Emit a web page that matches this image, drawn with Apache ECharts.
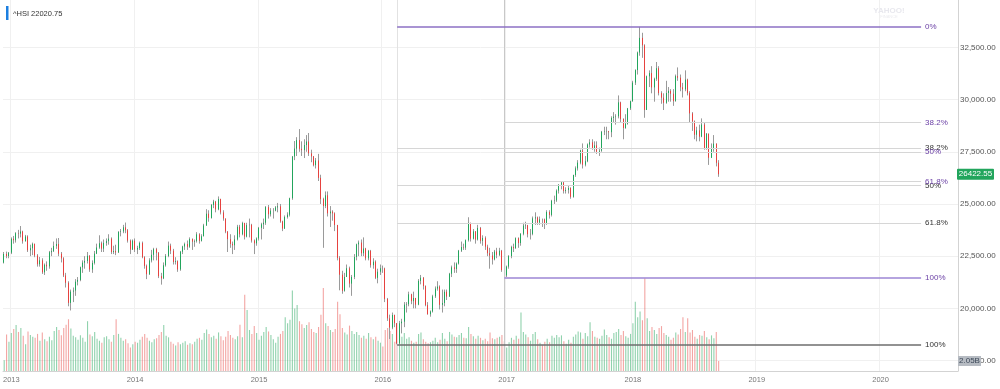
<!DOCTYPE html>
<html><head><meta charset="utf-8">
<script src="https://cdn.jsdelivr.net/npm/echarts@6/dist/echarts.min.js"></script>
<style>html,body{margin:0;padding:0;background:#fff}#c{width:1000px;height:389px}</style>
</head><body><div id="c"></div>
<script>
// ---------- DATA ----------
const startMonday = [2012, 11, 10]; // 2012-12-10, weekly categories
const weekCount = 401;              // axis runs to mid 2020
// weekly candles [open, close, low, high]
const ohlc2012 = [
[22190,22605,22150,22700],[22605,22506,22400,22720],[22506,22666,22400,22700],[22666,23331,22600,23400]];
const ohlc2013 = [
[23331,23264,23100,23470],[23264,23601,23150,23650],[23601,23580,23350,23760],[23580,23682,23400,23944],
[23682,23215,23100,23720],[23215,23444,23200,23520],[23444,22782,22700,23500],[22782,22880,22500,23050],
[22880,23091,22550,23150],[23091,22533,22450,23100],[22533,22115,22000,22600],[22115,22300,22000,22460],
[22300,21727,21650,22400],[21727,22089,21600,22150],[22089,22013,21800,22250],[22013,22690,21900,22750],
[22690,22740,22500,22900],[22740,22989,22700,23200],[22989,23082,22850,23350],[23082,22618,22500,23370],
[22618,22392,22200,22700],[22392,21575,21500,22450],[21575,21225,21000,21700],[21225,20263,20100,21300],
[20263,20803,19900,20900],[20803,20854,20300,21000],[20854,21277,20600,21400],[21277,21362,21100,21500],
[21362,21968,21300,22000],[21968,22190,21700,22300],[22190,22271,21900,22500],[22271,22517,22150,22700],
[22517,21863,21750,22550],[21863,22176,21700,22300],[22176,22621,22100,22750],[22621,22915,22600,23100],
[22915,23117,22850,23500],[23117,22860,22700,23200],[22860,23138,22700,23300],[23138,23218,23000,23350],
[23218,23340,23050,23550],[23340,22698,22600,23400],[22698,22744,22600,23000],[22744,22681,22550,23050],
[22681,23660,22650,23700],[23660,23686,23450,23800],[23686,23882,23600,24000],[23882,23743,23600,24111],
[23743,23245,23150,23800],[23245,22813,22600,23300],[22813,23244,22800,23300],[23244,22817,22700,23350]];
const ohlc2014 = [
[22817,22888,22600,23000],[22888,23133,22800,23200],[23133,22450,22400,23200],[22450,22035,21900,22500],
[22035,21636,21400,22100],[21636,22298,21600,22400],[22298,22568,22200,22800],[22568,22836,22300,22900],
[22836,22660,22300,22900],[22660,21540,21450,22700],[21540,21436,21137,21700],[21436,22065,21400,22200],
[22065,22510,22000,22600],[22510,23003,22450,23200],[23003,22760,22600,23100],[22760,22223,22100,22850],
[22223,22260,22100,22450],[22260,21863,21750,22300],[21863,22714,21800,22750],[22714,22965,22600,23000],
[22965,23081,22800,23150],[23081,22951,22800,23250],[22951,23319,22900,23400],[23319,23194,22800,23350],
[23194,23221,22950,23300],[23221,23546,23150,23650],[23546,23233,23100,23600],[23233,23454,23200,23550],
[23454,23971,23450,24050],[23971,24532,23950,24750],[24532,24331,24150,24700],[24331,24954,24300,25000],
[24954,25112,24800,25200],[25112,24742,24600,25150],[24742,25240,24700,25362],[25240,24595,24500,25250],
[24595,24306,24200,24700],[24306,23678,23600,24300],[23678,23315,22700,23700],[23315,23088,22900,23550],
[23088,23023,22600,23200],[23023,23302,22800,23500],[23302,23907,23250,24000],[23907,23550,23400,24000],
[23550,24087,23500,24150],[24087,23437,23300,24100],[23437,23987,23400,24100],[23987,24002,23400,24300],
[24002,23249,23150,24050],[23249,23116,22600,23300],[23116,23349,23000,23400],[23349,23857,23250,23900]];
const ohlc2015 = [
[23857,24026,23300,24100],[24026,24103,23800,24300],[24103,24850,24000,24900],[24850,24507,24300,24950],
[24507,24679,24400,24800],[24679,24682,24300,24800],[24682,24837,24650,24900],[24837,24887,24600,25050],
[24887,24164,24100,25000],[24164,23823,23700,24200],[23823,24375,23800,24450],[24375,24486,24300,24600],
[24486,25275,24400,25300],[25275,27273,25200,27300],[27273,27653,27100,28016],[27653,28061,27300,28200],
[28061,27641,27500,28588],[27641,27578,27300,28000],[27578,27823,27200,28100],[27823,27992,27500,28300],
[27992,27424,27300,28400],[27424,27280,27000,27600],[27280,26860,26800,27300],[26860,27080,26700,27200],
[27080,26250,26100,27400],[26250,25236,25000,26400],[25236,24901,22900,25300],[24901,25415,24800,25600],
[25415,24552,24400,25600],[24552,24636,23900,24900],[24636,24552,24200,24700],[24552,23991,23700,24600],
[23991,22410,22300,24000],[22410,21612,20865,22500],[21612,20840,20700,21800],[20840,21504,20800,21700],
[21504,21920,21500,22100],[21920,21186,21000,22000],[21186,21506,20600,21600],[21506,22459,21400,22600],
[22459,23067,22300,23100],[23067,23151,22500,23250],[23151,22640,22500,23300],[22640,22867,22500,23400],
[22867,22397,22300,22900],[22397,22754,22300,22800],[22754,22068,21950,22800],[22068,22235,21900,22400],
[22235,21464,21400,22300],[21464,21755,21200,21900],[21755,21920,21600,22100],[21920,21914,21700,22050]];
const ohlc2016 = [
[21914,20453,20300,21950],[20453,19521,19400,20500],[19521,19080,18534,19700],[19080,19683,19000,19800],
[19683,19288,19100,19700],[19288,18320,18278,19300],[18320,19286,18300,19400],[19286,19364,18800,19500],
[19364,20177,19100,20300],[20177,20200,19800,20300],[20200,20672,20100,20800],[20672,20346,20200,20700],
[20346,20498,20000,20800],[20498,20178,20000,20500],[20178,21316,20150,21400],[21316,21467,21150,21600],
[21467,21067,20900,21500],[21067,20157,20100,21100],[20157,19719,19700,20300],[19719,19852,19600,19900],
[19852,20576,19800,20650],[20576,20947,20500,21050],[20947,21042,20850,21300],[21042,20170,19950,21100],
[20170,20259,19800,20900],[20259,20795,20100,20900],[20795,20564,20400,20900],[20564,21659,20550,21700],
[21659,21964,21500,22050],[21964,21891,21700,22200],[21891,22146,21700,22200],[22146,22766,22100,22800],
[22766,22937,22700,23200],[22937,22909,22800,23100],[22909,23266,22800,23300],[23266,24099,23200,24364],
[24099,23336,23200,24100],[23336,23686,23300,23800],[23686,23297,23100,23700],[23297,23851,23250,24000],
[23851,23233,23100,23900],[23233,23374,23000,23500],[23374,22955,22800,23450],[22955,22642,22500,23050],
[22642,22531,21900,22900],[22531,22344,22100,22700],[22344,22723,22300,22800],[22723,22565,22400,22900],
[22565,22761,22500,22900],[22761,21833,21750,22800],[21833,21575,21488,21900],[21575,22001,21500,22050]];
const ohlc2017 = [
[22001,22503,21900,22550],[22503,22937,22400,23000],[22937,22885,22700,23100],[22885,23361,22850,23400],
[23361,23129,22900,23400],[23129,23574,23000,23600],[23574,23965,23500,24100],[23965,23985,23800,24150],
[23985,23552,23400,24000],[23552,23568,23300,23800],[23568,24309,23500,24400],[24309,24358,24000,24600],
[24358,24111,24000,24400],[24111,24262,24000,24400],[24262,24261,23900,24300],[24261,24042,23800,24300],
[24042,24615,24000,24700],[24615,24476,24300,24700],[24476,25156,24400,25200],[25156,25174,25000,25400],
[25174,25639,25100,25700],[25639,25924,25500,25950],[25924,26030,25700,26100],[26030,25626,25500,26100],
[25626,25670,25500,25800],[25670,25765,25500,25900],[25765,25341,25250,25800],[25341,26389,25300,26400],
[26389,26706,26300,26800],[26706,26979,26600,27100],[26979,27563,26900,27600],[27563,26883,26700,27900],
[26883,27047,26800,27300],[27047,27848,27000,27900],[27848,27953,27700,28100],[27953,27668,27600,28100],
[27668,27807,27500,28000],[27807,27500,27400,28000],[27500,27554,27300,27700],[27554,28458,27500,28500],
[28458,28476,28300,28700],[28476,28487,28100,28700],[28487,28438,28100,28500],[28438,29121,28200,29200],
[29121,29182,28900,29400],[29182,29199,28800,29300],[29199,29866,29100,30200],[29866,29074,28900,29900],
[29074,28640,28100,29100],[28640,28849,28600,29300],[28849,29578,28800,29600],[29578,29919,29500,29950]];
const ohlc2018 = [
[29919,30814,29900,30900],[30814,31412,30700,31450],[31412,32254,31200,32300],[32254,32955,32100,33484],
[32955,32601,32000,33200],[32601,29507,29129,32650],[29507,31115,29500,31150],[31115,31268,30600,31400],
[31268,30583,30300,31600],[30583,30996,29900,31050],[30996,31502,30900,31800],[31502,30309,30200,31600],
[30309,30093,29800,30400],[30093,29845,29500,30300],[29845,30315,29800,30900],[30315,30418,29900,30600],
[30418,30281,29900,30500],[30281,29926,29700,30500],[29926,31122,29900,31200],[31122,31048,30900,31541],
[31048,30588,30400,31200],[30588,30493,30100,30800],[30493,30958,30400,31400],[30958,30309,30200,31000],
[30309,29339,28900,30400],[29339,28955,28500,29400],[28955,28316,28100,29000],[28316,28525,28000,28700],
[28525,28224,28000,28800],[28224,28804,28200,29100],[28804,27676,27600,28900],[27676,28366,27600,28400],
[28366,27213,26871,28370],[27213,27672,27200,27900],[27672,27889,27500,28300],[27889,26973,26800,27900],
[26973,26422.55,26300,27100]];
// weekly volume, billions of shares
const vol2012 = [2.2,7.5,6.0,7.8];
const vol2013 = [8.6,9.4,8.0,8.8,7.2,5.5,8.1,7.4,7.0,6.8,7.6,6.2,7.9,6.5,6.1,7.0,6.3,8.2,9.0,8.4,7.3,8.8,9.5,10.6,8.7,7.2,6.9,6.4,7.3,6.8,6.0,10.2,7.5,7.1,8.0,6.6,6.2,5.8,6.9,7.1,6.5,6.0,7.4,10.6,7.6,6.8,6.2,6.5,5.7,4.8,5.5,6.0];
const vol2014 = [5.8,6.4,7.0,7.6,6.8,6.2,5.9,6.5,6.7,7.4,8.0,9.4,7.2,6.9,6.0,5.6,5.2,5.9,5.5,5.8,6.1,5.4,5.7,5.5,6.0,6.6,6.8,6.4,7.8,8.5,7.6,6.9,7.2,6.6,7.9,7.1,6.3,7.0,8.2,7.4,6.8,6.5,7.1,9.5,6.9,15.6,12.5,8.4,7.6,9.2,7.8,6.4];
const vol2015 = [7.2,8.0,9.0,8.1,7.4,6.5,5.8,7.0,7.6,8.2,11.0,9.8,10.5,16.5,12.8,13.5,10.2,9.6,8.8,9.4,10.0,8.6,8.0,7.8,9.0,11.5,17.0,9.8,9.2,8.4,8.0,8.6,14.2,11.6,8.8,7.9,7.5,9.3,8.2,7.6,8.0,7.4,6.8,7.2,6.6,7.8,6.9,6.5,7.0,6.2,5.8,5.0];
const vol2016 = [8.4,8.8,8.2,7.6,6.0,8.1,7.3,7.0,7.8,6.6,6.9,6.2,5.8,6.0,7.6,7.9,6.5,6.0,5.7,5.9,6.2,6.8,5.9,6.4,7.8,6.6,6.1,8.0,7.5,7.0,6.9,7.4,7.8,6.8,6.7,9.0,7.6,7.1,6.6,7.2,6.8,6.3,6.6,6.1,7.9,6.7,6.5,6.8,7.0,7.4,6.1,4.8];
const vol2017 = [5.9,6.8,6.4,7.2,6.6,12.0,8.0,7.5,6.9,6.2,7.6,8.0,6.5,5.8,5.4,6.0,6.6,5.9,7.2,6.8,7.4,6.9,7.3,6.1,5.6,6.4,5.8,7.0,7.5,8.1,7.9,6.6,7.8,7.1,10.0,8.2,7.0,6.8,6.6,7.2,8.5,7.4,6.9,6.6,7.8,8.0,8.6,7.4,8.2,7.1,6.8,7.6];
const vol2018 = [9.8,14.2,11.0,12.2,10.4,19.0,10.8,8.2,9.0,8.4,7.6,8.8,9.2,7.8,7.4,7.0,6.4,6.8,7.9,7.5,8.6,11.0,8.0,10.8,7.9,8.4,7.0,6.6,7.4,7.2,8.2,6.9,6.5,7.3,6.7,8.0,2.05];
// price axis tick labels
const priceTicks = [17500,20000,22500,25000,27500,30000,32500];
// Fibonacci retracement anchors
const fibHigh = 33484, fibLowA = 18278, fibLowB = 21488;
const fibStartA = '2016-02-08', fibStartB = '2016-12-19', fibEnd = '2020-04-27';
const fibRatios = [0, 0.382, 0.5, 0.618, 1];
const fibNames = ['0%', '38.2%', '50%', '61.8%', '100%'];
const titleText = '^HSI 22020.75';

// ---------- BUILD ----------
const categories = [];
for (let i = 0; i < weekCount; i++) {
  const d = new Date(Date.UTC(startMonday[0], startMonday[1], startMonday[2] + i * 7));
  categories.push(d.toISOString().slice(0, 10));
}
const ohlc = [].concat(ohlc2012, ohlc2013, ohlc2014, ohlc2015, ohlc2016, ohlc2017, ohlc2018);
const volume = [].concat(vol2012, vol2013, vol2014, vol2015, vol2016, vol2017, vol2018);
const bodies = ohlc.map(d => [d[0], d[1], Math.min(d[0], d[1]), Math.max(d[0], d[1])]);

const upColor = '#22a55c', downColor = '#e6423f', wickColor = '#9a9a9a';
const volUp = 'rgba(34,165,92,0.5)', volDown = 'rgba(230,66,63,0.48)';
const purple = '#6c42a6', dark = '#333';
const FONT = 'Liberation Sans';

function isYearStart(idx, value) {
  const m = +value.slice(5, 7), d = +value.slice(8, 10);
  return (m === 12 && d >= 26) || (m === 1 && d === 1);
}
function yearOf(value) {
  const y = +value.slice(0, 4), m = +value.slice(5, 7);
  return String(m === 12 ? y + 1 : y);
}

const fibLines = [];
function addFib(start, low, r, name, lineColor, width, labelColor) {
  const v = fibHigh - r * (fibHigh - low);
  fibLines.push([
    { coord: [start, v], lineStyle: { color: lineColor, width: width, type: 'solid' },
      label: { show: true, position: 'end', formatter: name, color: labelColor, fontSize: 8, fontFamily: FONT, distance: 4 } },
    { coord: [fibEnd, v] }
  ]);
}
// set A: from Feb 2016 low
addFib(fibStartA, fibLowA, 0, '0%', '#8c70c4', 1.5, purple);
for (let k = 1; k <= 3; k++) addFib(fibStartA, fibLowA, fibRatios[k], fibNames[k], '#d6d6d6', 1, dark);
addFib(fibStartA, fibLowA, 1, '100%', '#6e6e6e', 1.5, dark);
// set B: from Dec 2016 low
for (let k = 1; k <= 3; k++) addFib(fibStartB, fibLowB, fibRatios[k], fibNames[k], '#d6d6d6', 1, purple);
addFib(fibStartB, fibLowB, 1, '100%', '#9d86d4', 1.5, purple);
const vLines = [
  { xAxis: fibStartA, lineStyle: { color: '#e2e2e2', width: 1, type: 'solid' }, label: { show: false } },
  { xAxis: fibStartB, lineStyle: { color: '#c8c8c8', width: 1, type: 'solid' }, label: { show: false } }
];

const chart = echarts.init(document.getElementById('c'));
chart.setOption({
  animation: false,
  grid: { left: 0, right: 42, top: 0, bottom: 18 },
  xAxis: {
    type: 'category', data: categories, boundaryGap: true,
    axisLine: { show: true, onZero: false, lineStyle: { color: '#d3d3d3' } },
    axisTick: { show: false },
    axisLabel: { interval: isYearStart, formatter: yearOf, color: '#777', fontSize: 7.5, fontFamily: FONT, margin: 5 },
    splitLine: { show: true, interval: isYearStart, lineStyle: { color: '#f0f0f0' } }
  },
  yAxis: [
    { type: 'value', position: 'right', min: 17000, max: 34770, scale: true,
      axisLine: { show: true, lineStyle: { color: '#d3d3d3' } },
      axisTick: { show: false, customValues: priceTicks },
      axisLabel: { customValues: priceTicks, color: '#555', fontSize: 8, fontFamily: FONT, margin: 2,
        formatter: v => v.toLocaleString('en-US', { minimumFractionDigits: 2, maximumFractionDigits: 2 }) },
      splitLine: { show: true, lineStyle: { color: '#f0f0f0' } } },
    { type: 'value', min: 0, max: 76, show: false, splitLine: { show: false } }
  ],
  series: [
    { type: 'bar', name: 'Volume', yAxisIndex: 1, barWidth: 1.1, silent: true, z: 1,
      data: volume.map((v, i) => ({ value: v, itemStyle: { color: ohlc[i][1] >= ohlc[i][0] ? volUp : volDown } })) },
    { type: 'candlestick', name: 'range', yAxisIndex: 0, barWidth: 0.6, silent: true, z: 2, data: ohlc,
      itemStyle: { color: wickColor, color0: wickColor, borderColor: wickColor, borderColor0: wickColor, borderWidth: 1 },
      markLine: { silent: true, symbol: ['none', 'none'], animation: false, data: vLines.concat(fibLines) } },
    { type: 'candlestick', name: '^HSI', yAxisIndex: 0, barWidth: 1.2, silent: true, z: 3, data: bodies,
      itemStyle: { color: upColor, color0: downColor, borderColor: upColor, borderColor0: downColor, borderWidth: 1 } }
  ]
});

const lastClose = ohlc[ohlc.length - 1][1];
const lastVol = volume[volume.length - 1];
const yClose = chart.convertToPixel({ yAxisIndex: 0 }, lastClose);
const yVol = chart.convertToPixel({ yAxisIndex: 1 }, lastVol);
chart.setOption({
  graphic: [
    { type: 'rect', left: 6, top: 6, shape: { width: 2.5, height: 14 }, style: { fill: '#1c7fe0' } },
    { type: 'text', x: 13, y: 13.5, style: { text: titleText, fill: '#333', fontSize: 7.5, fontFamily: FONT, verticalAlign: 'middle' } },
    { type: 'text', x: 889, y: 11, style: { text: 'YAHOO!', fill: '#e8e8ee', fontSize: 8, fontWeight: 'bold', fontFamily: FONT, align: 'center', verticalAlign: 'middle' } },
    { type: 'text', x: 889, y: 17, style: { text: 'FINANCE', fill: '#ececf0', fontSize: 4, fontFamily: FONT, align: 'center', verticalAlign: 'middle' } },
    { type: 'rect', shape: { x: 957, y: yClose - 5.5, width: 37, height: 11, r: 1 }, style: { fill: '#22a55c' }, z: 100 },
    { type: 'text', x: 975.5, y: yClose, style: { text: lastClose.toFixed(2), fill: '#fff', fontSize: 8, fontFamily: FONT, align: 'center', verticalAlign: 'middle' }, z: 101 },
    { type: 'rect', shape: { x: 958, y: yVol - 5, width: 23, height: 10 }, style: { fill: '#b6bbc2' }, z: 100 },
    { type: 'text', x: 969.5, y: yVol, style: { text: lastVol.toFixed(2) + 'B', fill: '#3c4858', fontSize: 8, fontFamily: FONT, align: 'center', verticalAlign: 'middle' }, z: 101 }
  ]
});
</script>
</body></html>
